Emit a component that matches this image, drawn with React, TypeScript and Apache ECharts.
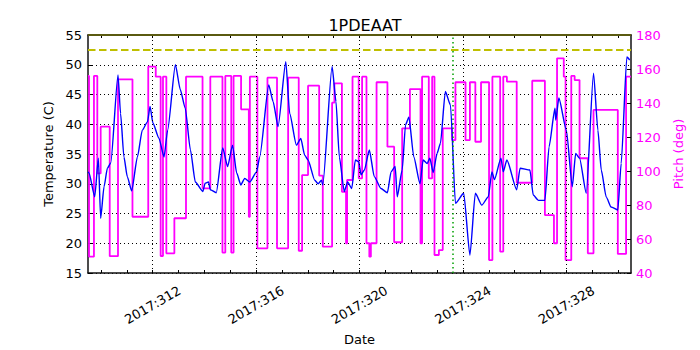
import React, { useEffect, useRef } from "react";
import * as echarts from "echarts";

const tempDays = [
  309.5, 309.54, 309.76, 309.9, 309.99, 310.12, 310.25, 310.38, 310.66, 310.76, 310.89, 311.02, 311.19,
  311.41, 311.6, 311.8, 311.9, 312.01, 312.24, 312.44, 312.58, 312.88, 313.07, 313.26, 313.46, 313.65,
  313.94, 314.03, 314.16, 314.23, 314.46, 314.71, 314.9, 315.09, 315.25, 315.41, 315.56, 315.76, 316.02,
  316.14, 316.49, 316.66, 316.85, 317.15, 317.3, 317.56, 317.73, 317.88, 318.01, 318.27, 318.4, 318.53,
  318.58, 318.94, 319.09, 319.22, 319.41, 319.54, 319.7, 319.84, 319.97, 320.06, 320.19, 320.38, 320.57,
  320.83, 321.08, 321.22, 321.38, 321.46, 321.65, 321.78, 321.91, 322.1, 322.34, 322.46, 322.62, 322.72,
  322.85, 323.0, 323.13, 323.32, 323.52, 323.71, 324.03, 324.27, 324.48, 324.73, 324.98, 325.12, 325.22,
  325.47, 325.56, 325.7, 326.08, 326.21, 326.59, 326.72, 326.92, 327.17, 327.33, 327.56, 327.59, 327.71,
  328.0, 328.23, 328.36, 328.51, 328.77, 329.05, 329.22, 329.35, 329.54, 329.73, 329.99, 330.12, 330.34,
  330.45,
];
const tempValues = [
  32.0, 31.8, 27.8, 34.3, 24.2, 29.5, 32.6, 33.5, 48.3, 41.8, 34.5, 31.2, 28.8,
  34.5, 39.0, 40.4, 43.0, 40.2, 37.7, 34.5, 39.0, 50.0, 45.8, 42.7, 35.7, 30.3,
  28.7, 30.1, 30.3, 29.0, 28.5, 36.0, 32.9, 36.5, 31.8, 29.8, 30.9, 30.3, 32.0,
  34.5, 46.6, 43.8, 39.6, 50.5, 41.8, 36.5, 37.6, 34.8, 34.0, 30.6, 30.0, 30.6,
  29.8, 49.7, 43.8, 34.5, 28.7, 30.3, 29.2, 34.0, 33.7, 31.5, 32.3, 35.7, 31.2,
  29.2, 28.5, 32.0, 32.9, 27.8, 32.3, 39.9, 41.2, 34.5, 30.0, 34.0, 33.4, 34.3,
  31.9, 35.1, 36.8, 45.5, 43.2, 26.7, 28.4, 18.0, 28.4, 26.4, 27.8, 32.0, 30.7,
  34.3, 32.0, 34.0, 29.0, 32.6, 32.3, 28.1, 27.2, 27.2, 36.2, 42.7, 40.7, 44.4,
  39.0, 29.5, 35.1, 34.3, 28.4, 48.6, 39.0, 32.3, 27.8, 26.1, 25.6, 33.4, 51.3,
  50.8,
];

const pitchDays = [
  309.5, 309.54, 309.73, 309.86, 309.99, 310.34, 310.66, 311.22, 311.83, 312.12, 312.31, 312.4, 312.53,
  312.84, 313.29, 313.93, 314.23, 314.7, 314.81, 315.04, 315.13, 315.42, 315.72, 315.76, 316.05, 316.44,
  316.81, 317.24, 317.65, 317.78, 318.01, 318.44, 318.58, 318.94, 319.03, 319.32, 319.48, 319.52, 319.73,
  319.97, 320.1, 320.27, 320.38, 320.44, 320.66, 321.08, 321.34, 321.65, 321.95, 322.36, 322.42, 322.68,
  322.81, 322.9, 323.07, 323.22, 323.58, 323.71, 324.1, 324.27, 324.48, 324.7, 325.01, 325.14, 325.44,
  325.56, 325.7, 326.08, 326.68, 327.17, 327.52, 327.64, 327.9, 327.97, 328.19, 328.32, 328.51, 328.83,
  329.05, 329.99, 330.31, 330.5,
];
const pitchValues = [
  155.9, 49.6, 155.9, 98.6, 126.1, 49.9, 153.9, 73.1, 161.4, 155.5, 50.0, 155.5, 51.6,
  72.2, 155.5, 89.8, 155.5, 52.0, 155.9, 52.0, 155.9, 136.3, 73.1, 155.5, 54.5, 154.9,
  54.5, 154.9, 53.1, 97.6, 150.2, 97.3, 55.5, 140.2, 151.6, 87.8, 57.5, 94.7, 155.5,
  95.7, 155.5, 57.5, 49.6, 57.5, 152.2, 114.3, 58.1, 125.1, 148.2, 57.5, 155.5, 95.7,
  155.5, 50.6, 53.5, 125.1, 118.2, 152.2, 118.2, 152.2, 117.2, 152.2, 47.6, 155.5, 52.6,
  155.5, 152.6, 93.1, 153.1, 74.1, 57.5, 166.3, 155.5, 47.6, 155.9, 153.5, 107.5, 51.6,
  135.9, 51.2, 155.5, 155.5,
];

const dayTicks = [310, 311, 312, 313, 314, 315, 316, 317, 318, 319, 320, 321, 322, 323, 324, 325, 326, 327, 328, 329, 330];
const labelDays = [312, 316, 320, 324, 328];
const yearLabel = "2017";
const tempLimit = 52.5;
const tempTopLimit = 55;
const eventDay = 323.6;

const FONT = "DejaVu Sans";

export default function App() {
  const ref = useRef<HTMLDivElement>(null);
  useEffect(() => {
    if (!ref.current) return;
    const chart = echarts.init(ref.current, null, { renderer: "svg" });
    const tempData = tempDays.map((d, i) => [d, tempValues[i]]);
    const pitchData = pitchDays.map((d, i) => [d, pitchValues[i]]);
    const frame = { show: true, lineStyle: { color: "#111", width: 1.5 } };
    chart.setOption({
      animation: false,
      backgroundColor: "#fff",
      textStyle: { fontFamily: FONT },
      title: {
        text: "1PDEAAT",
        left: 360,
        textAlign: "center",
        top: 12,
        textStyle: { fontFamily: FONT, fontSize: 16, fontWeight: "normal", color: "#000" },
      },
      grid: { left: 88, right: 69, top: 35, bottom: 77, containLabel: false, outerBoundsMode: "none" },
      xAxis: [
        {
          type: "value",
          min: 309.5,
          max: 330.5,
          position: "bottom",
          name: "Date",
          nameLocation: "middle",
          nameGap: 56,
          nameTextStyle: { fontFamily: FONT, fontSize: 13, color: "#000" },
          axisLine: frame,
          axisTick: { show: true, inside: true, length: 3, customValues: dayTicks, lineStyle: { color: "#000" } },
          axisLabel: {
            customValues: labelDays,
            formatter: (v: number) => yearLabel + ":" + Math.round(v),
            rotate: 30,
            align: "center",
            verticalAlign: "middle",
            margin: 32,
            fontFamily: FONT,
            fontSize: 13,
            color: "#000",
          },
          splitLine: { show: false },
        },
        {
          type: "value",
          min: 309.5,
          max: 330.5,
          position: "top",
          axisLine: frame,
          axisTick: { show: true, inside: true, length: 3, customValues: dayTicks, lineStyle: { color: "#000" } },
          axisLabel: { show: false },
          splitLine: { show: false },
        },
      ],
      yAxis: [
        {
          type: "value",
          min: 15,
          max: 55,
          interval: 5,
          position: "left",
          name: "Temperature (C)",
          nameLocation: "middle",
          nameRotate: 90,
          nameGap: 30,
          nameTextStyle: { fontFamily: FONT, fontSize: 13, color: "#000" },
          axisLine: frame,
          axisTick: { show: true, inside: true, length: 4, lineStyle: { color: "#000" } },
          axisLabel: { fontFamily: FONT, fontSize: 13, color: "#000", margin: 6 },
          splitLine: { show: true, lineStyle: { color: "#000", type: [1, 3], width: 1 } },
        },
        {
          type: "value",
          min: 40,
          max: 180,
          interval: 20,
          position: "right",
          name: "Pitch (deg)",
          nameLocation: "middle",
          nameRotate: 90,
          nameGap: 25,
          nameTextStyle: { fontFamily: FONT, fontSize: 13, color: "#ff00ff" },
          axisLine: frame,
          axisTick: { show: true, inside: true, length: 4, lineStyle: { color: "#000" } },
          axisLabel: { fontFamily: FONT, fontSize: 13, color: "#ff00ff", margin: 5 },
          splitLine: { show: false },
        },
      ],
      series: [
        {
          name: "grid",
          type: "line",
          data: [],
          xAxisIndex: 0,
          yAxisIndex: 0,
          z: 1,
          markLine: {
            silent: true,
            symbol: "none",
            label: { show: false },
            lineStyle: { color: "#000", type: [1, 3], width: 1 },
            data: labelDays.map((d) => ({ xAxis: d })),
          },
        },
        {
          name: "Temperature",
          type: "line",
          data: tempData,
          xAxisIndex: 0,
          yAxisIndex: 0,
          showSymbol: false,
          smooth: 0.2,
          smoothMonotone: "x",
          z: 3,
          lineStyle: { color: "#0000ff", width: 1.4 },
          markLine: {
            silent: true,
            symbol: "none",
            label: { show: false },
            data: [
              { yAxis: tempLimit, lineStyle: { color: "#bfbf00", type: [7.5, 3.5], width: 2.2 } },
              { yAxis: tempTopLimit, lineStyle: { color: "#5a5a10", type: "solid", width: 1.8 } },
              { xAxis: eventDay, lineStyle: { color: "#00a000", type: [1.5, 3], width: 1.5 } },
            ],
          },
        },
        {
          name: "Pitch",
          type: "line",
          step: "end",
          data: pitchData,
          xAxisIndex: 0,
          yAxisIndex: 1,
          showSymbol: false,
          z: 2,
          lineStyle: { color: "#ff00ff", width: 1.8 },
        },
      ],
    });
    return () => chart.dispose();
  }, []);
  return (
    <div
      ref={ref}
      style={{ position: "fixed", left: 0, top: 0, width: 700, height: 350, background: "#fff" }}
    />
  );
}
